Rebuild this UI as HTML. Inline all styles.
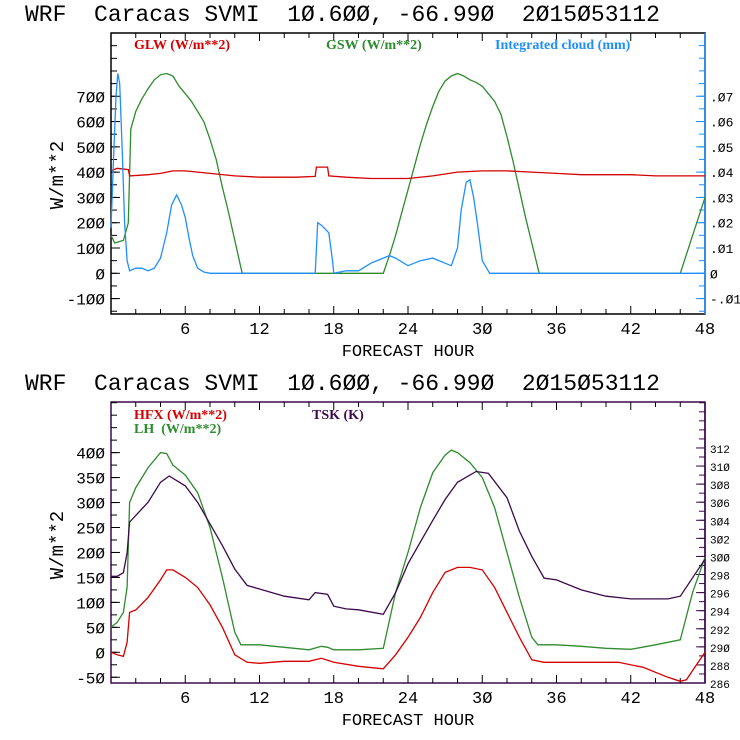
<!DOCTYPE html>
<html><head><meta charset="utf-8">
<style>
html,body{margin:0;padding:0;background:#fff;}
svg{display:block;}
text{font-family:"Liberation Mono",monospace;}
.ttl{white-space:pre;}
.lg{font-family:"Liberation Serif",serif;font-weight:bold;font-size:14px;white-space:pre;}
</style></head>
<body>
<svg id="c" width="740" height="740" xmlns="http://www.w3.org/2000/svg"></svg>
<script>
// Top panel data
const gswH = [0,0.3,1,1.4,1.6,2,2.5,3,3.5,4,4.5,5,5.5,6,6.5,7,7.5,8,8.5,9,9.5,10,10.6,22,22.5,23,23.5,24,24.5,25,25.5,26,26.5,27,27.5,28,28.5,29,29.5,30,30.5,31,31.5,32,32.5,33,33.5,34,34.6,46,47,48];
const gswV = [150,120,130,200,570,640,690,730,765,785,790,780,740,710,680,640,600,530,450,340,240,130,0,0,70,150,240,330,420,510,590,660,720,760,780,790,780,765,755,740,710,680,630,540,440,330,220,120,0,0,150,300];
const glwH = [0,0.5,1.4,1.5,3,4,5,6,8,10,12,15,16.5,16.6,17.5,17.6,19,21,24,26,28,30,32,34,36,38,42,44,48];
const glwV = [405,415,410,385,390,395,405,405,395,385,380,380,383,420,420,385,380,375,375,385,400,405,405,400,395,390,390,385,385];
const cldH = [0,0.2,0.4,0.55,0.7,0.9,1.1,1.3,1.5,2,2.5,3,3.5,4,4.5,4.9,5.3,5.7,6,6.3,6.6,7,7.5,8,16.5,16.7,17,17.6,17.9,18,19,20,21,22.5,23,24,25,26,27,27.5,28,28.3,28.7,29,29.3,29.6,30,30.6,48];
const cldV = [0.018,0.045,0.07,0.079,0.075,0.05,0.02,0.005,0.001,0.002,0.002,0.001,0.002,0.006,0.016,0.027,0.031,0.027,0.022,0.014,0.007,0.002,0.0005,0,0,0.02,0.019,0.016,0.005,0,0.001,0.001,0.004,0.007,0.006,0.003,0.005,0.006,0.004,0.003,0.01,0.025,0.036,0.037,0.03,0.02,0.005,0,0];
// Bottom panel data
const tskH = [0,0.5,1,1.3,1.5,3,4,4.7,6,7,8,9,10,11,12,14,16,16.5,17.5,18,19,20,22,23,24,26,27,28,29.5,30.5,32,33,34,35,36,38,40,42,45,46,48];
const tskV = [297.8,297.8,298.2,300.4,303.8,306,308.2,308.9,307.8,306,303.6,301.2,298.6,296.8,296.4,295.6,295.2,296,295.8,294.5,294.2,294.1,293.6,296,299.2,304,306.3,308.2,309.4,309.2,306.5,302.8,300,297.6,297.4,296.3,295.6,295.3,295.3,295.6,299.7];
const lhH = [0,0.5,1,1.3,1.5,2,3,4,4.5,5,6,7,8,9,10,10.5,12,14,16,17,17.5,18,20,22,23,24,25,26,27,27.5,28,29,30,31,32,33,34,34.5,36,38,40,42,44,46,47,48];
const lhV = [50,60,80,130,300,330,370,400,398,375,355,320,250,150,40,15,15,10,5,12,10,5,5,8,120,200,290,360,395,405,400,380,350,290,200,110,30,15,15,12,8,6,15,25,120,190];
const hfxH = [0,0.5,1,1.3,1.5,2,3,4,4.5,5,6,7,8,9,10,11,12,14,16,17,18,20,22,23,24,25,26,27,28,29,30,31,32,33,34,35,38,41,43,45,46,46.5,48];
const hfxV = [0,-5,-8,20,80,85,110,145,165,165,150,130,95,50,-5,-20,-22,-18,-18,-12,-20,-28,-33,-5,30,70,120,160,170,170,165,130,80,30,-15,-20,-20,-20,-30,-50,-58,-55,0];
const xTicks = [6,12,18,24,30,36,42,48];
const topYTicks = [-100,0,100,200,300,400,500,600,700];
const topRTicks = [-0.01,0,0.01,0.02,0.03,0.04,0.05,0.06,0.07];
const botYTicks = [-50,0,50,100,150,200,250,300,350,400];
const botRTicks = [286,288,290,292,294,296,298,300,302,304,306,308,310,312];

const svg = document.getElementById('c');
const NS = 'http://www.w3.org/2000/svg';
function mk(tag, attrs, parent){const e=document.createElementNS(NS,tag);for(const k in attrs)e.setAttribute(k,attrs[k]);(parent||svg).appendChild(e);return e;}
const L=111,R=705;
const xs = h => L + h*(R-L)/48;
function fmt(v){return String(v).replace(/0/g,'\u00d8');}
function fmtR(v){let s=v.toFixed(2);if(s.startsWith('0.'))s=s.slice(1);else if(s.startsWith('-0.'))s='-'+s.slice(2);if(v===0)s='0';return s.replace(/0/g,'\u00d8');}

function panel(p){
  const g=mk('g',{});
  
  
  const t=mk('text',{x:25,y:p.top-12,'font-size':'23px',fill:'#000',class:'ttl'},g);
  t.textContent='WRF  Caracas SVMI  10.600, -66.990  2015053112'.replace(/0/g,'\u00d8');
  
  
  const fr=mk('rect',{x:L,y:p.top,width:R-L,height:p.bot-p.top,fill:'none',stroke:p.frame,'stroke-width':1.5},g);
  
  
  mk('line',{x1:R,y1:p.top,x2:R,y2:p.bot,stroke:p.rcol,'stroke-width':1.5},g);
  for(let h=2;h<48;h+=2){const len=(h%6===0)?8:5;
    mk('line',{x1:xs(h),y1:p.bot,x2:xs(h),y2:p.bot-len,stroke:'#000'},g);
    mk('line',{x1:xs(h),y1:p.top,x2:xs(h),y2:p.top+len,stroke:'#000'},g);}
  for(const h of xTicks){const tx=mk('text',{x:xs(h),y:p.bot+20,'text-anchor':'middle','font-size':'17px'},g);tx.textContent=fmt(h);
    
    }
  const xl=mk('text',{x:408,y:p.bot+42,'text-anchor':'middle','font-size':'17px'},g);xl.textContent='FORECAST HOUR';
  
  
  const yl=mk('text',{x:0,y:0,'text-anchor':'middle','font-size':'19px',transform:`translate(${63},${p.ylabY}) rotate(-90)`},g);yl.textContent='W/m**2';
  
  
  for(let v=p.yMinorStart;p.ys(v)>=p.top;v+=p.yMinor){const y=p.ys(v);if(y>p.bot)continue;
    mk('line',{x1:L,y1:y,x2:L+6,y2:y,stroke:'#000'},g);}
  for(const v of p.yTicks){const y=p.ys(v);mk('line',{x1:L,y1:y,x2:L+9,y2:y,stroke:'#000'},g);
    const tx=mk('text',{x:L-6,y:y+6,'text-anchor':'end','font-size':'16px'},g);tx.textContent=fmt(v);
    
    }
  for(let y=p.rs(p.rMinorStart);y>=p.top;y-=p.rMinorPx){if(y<=p.bot)mk('line',{x1:R,y1:y,x2:R-6,y2:y,stroke:p.rcol},g);}
  for(const v of p.rTicks){const y=p.rs(v);mk('line',{x1:R,y1:y,x2:R-9,y2:y,stroke:p.rcol},g);
    const tx=mk('text',{x:R+5,y:y+5,'font-size':p.rFont,fill:'#000'},g);tx.textContent=p.rfmt(v);
    
    }
  for(const s of p.series){
    let d='';s.h.forEach((h,i)=>{d+=(i?'L':'M')+xs(h).toFixed(1)+' '+s.sc(s.v[i]).toFixed(1);});
    const pa=mk('path',{d:d,fill:'none',stroke:s.col,'stroke-width':1.3},g);
    
    
  }
  for(const l of p.legend){const tx=mk('text',{x:l.x,y:l.y,fill:l.col,class:'lg'},g);tx.textContent=l.t;
    
    }
}
const ysT=v=>273.3-v*0.2529;
const rsT=v=>273.3-v*10000*0.2529;
panel({name:'top-panel',top:33,bot:314,frame:'#000',rcol:'#1e8fff',ys:ysT,rs:rsT,yTicks:topYTicks,yMinor:50,yMinorStart:-150,
  rTicks:topRTicks,rMinorStart:-0.015,rMinorPx:12.65,rFont:'13px',rfmt:fmtR,ylabY:175,
  series:[{name:'gsw-line',h:gswH,v:gswV,sc:ysT,col:'#2e8b2e'},{name:'glw-line',h:glwH,v:glwV,sc:ysT,col:'#d40000'},{name:'cloud-line',h:cldH,v:cldV,sc:rsT,col:'#1e8fff'}],
  legend:[{x:134,y:49,t:'GLW (W/m**2)',col:'#d40000'},{x:326,y:49,t:'GSW (W/m**2)',col:'#2e8b2e'},{x:495,y:49,t:'Integrated cloud (mm)',col:'#1e8fff'}]});
const ysB=v=>652.3-v*0.4992;
const rsB=v=>683-(v-286)*9.04;
panel({name:'bottom-panel',top:402,bot:683,frame:'#3c0a4a',rcol:'#3c0a4a',ys:ysB,rs:rsB,yTicks:botYTicks,yMinor:25,yMinorStart:-75,
  rTicks:botRTicks,rMinorStart:286,rMinorPx:9.04,rFont:'11px',rfmt:v=>String(v).replace(/0/g,'\u00d8'),ylabY:545,
  series:[{name:'lh-line',h:lhH,v:lhV,sc:ysB,col:'#2e8b2e'},{name:'hfx-line',h:hfxH,v:hfxV,sc:ysB,col:'#d40000'},{name:'tsk-line',h:tskH,v:tskV,sc:rsB,col:'#3c0a4a'}],
  legend:[{x:134,y:419,t:'HFX (W/m**2)',col:'#d40000'},{x:134,y:433,t:'LH  (W/m**2)',col:'#2e8b2e'},{x:312,y:419,t:'TSK (K)',col:'#3c0a4a'}]});
</script>
</body></html>
